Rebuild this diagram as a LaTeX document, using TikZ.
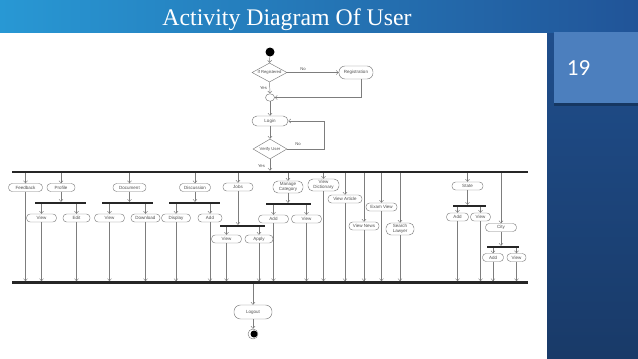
\documentclass[tikz,border=0pt]{standalone}
\usepackage{fontspec}
\setmainfont{Liberation Serif}
\setsansfont{Liberation Sans}
\newfontfamily\numfont{Carlito}
\usetikzlibrary{shapes.geometric,arrows.meta}
\definecolor{barL}{RGB}{40,152,212}
\definecolor{barR}{RGB}{33,84,152}
\definecolor{colT}{RGB}{31,78,140}
\definecolor{colB}{RGB}{25,58,104}
\definecolor{numbox}{RGB}{76,127,190}
\definecolor{linec}{RGB}{125,125,125}
\definecolor{nodetext}{RGB}{80,80,80}
\tikzset{
  act/.style={draw=linec, line width=0.45pt, fill=white, rounded corners=3.6pt,
    minimum height=8pt, inner sep=0.5pt, text=nodetext, align=center,
    font=\sffamily\fontsize{4.5}{5}\selectfont},
  actt/.style={act, minimum height=12pt, rounded corners=5pt},
  decis/.style={draw=linec, line width=0.45pt, fill=white, diamond, shape aspect=1.8,
    inner sep=0pt, text=nodetext, font=\sffamily\fontsize{4.2}{5}\selectfont},
  bar/.style={fill=black!85, inner sep=0pt, minimum height=2pt},
  arr/.style={draw=linec, line width=0.45pt, -{Straight Barb[length=2.2pt,width=4pt]}},
  lbl/.style={inner sep=0pt, text=nodetext, font=\sffamily\fontsize{4.2}{5}\selectfont}
}
\begin{document}
\begin{tikzpicture}[x=1pt,y=-1pt]
\useasboundingbox (0,0) rectangle (638,359);
% background
\shade[left color=barL, right color=barR] (0,0) rectangle (638,33);
\shade[top color=colT, bottom color=colB] (547,33) rectangle (638,359);
\fill[white] (0,33) rectangle (547,359);
% slide number box
\fill[black, opacity=0.25] (554,103) rectangle (638,105.5);
\fill[numbox] (554,32) rectangle (638,103);
\node[text=white, font=\numfont\fontsize{23}{26}\selectfont, inner sep=0pt] (num) at (578.5,68.5) {19};
% title
\node[text=white, font=\fontsize{23.8}{26}\selectfont, inner sep=0pt, anchor=base] (title) at (287,25.5) {Activity Diagram Of User};

% top part
\node[circle, fill=black, minimum size=9pt, inner sep=0pt] (start) at (270,52) {};
\node[decis, minimum width=35pt, minimum height=19pt] (ifreg) at (269.5,72.5) {If Registered};
\node[act, minimum width=34pt, minimum height=13pt, rounded corners=6pt] (reg) at (356,72.5) {Registration};
\node[ellipse, draw=linec, line width=0.45pt, fill=white, minimum width=9pt, minimum height=7.5pt, inner sep=0pt] (merge) at (270,97.5) {};
\node[act, minimum width=36pt, minimum height=10pt, rounded corners=5pt] (login) at (270,121) {Login};
\node[decis, minimum width=34pt, minimum height=20pt] (verify) at (270,149) {Verify User};
\coordinate (lp) at (324,121);

\node[lbl] (no1) at (303,69.5) {No};
\node[lbl] (yes1) at (263.5,88) {Yes};
\node[lbl] (no2) at (298,144) {No};
\node[lbl] (yes2) at (261.5,166) {Yes};

\draw[arr] (start) -- (ifreg.north);
\draw[arr] (ifreg.east) -- (reg.west);
\draw[arr] (ifreg.south) -- (merge.north);
\draw[arr] ([xshift=5pt]reg.south) |- (merge.east);
\draw[arr] (merge.south) -- (login.north);
\draw[arr] (login.south) -- (verify.north);
\draw[arr] (verify.east) -| (lp) -- (login.east);

% bars
\node[bar, minimum width=516pt, minimum height=2.4pt] (fork) at (270,172) {};
\node[bar, minimum width=516pt, minimum height=2.4pt] (join) at (270,282.5) {};
\draw[arr] (verify.south) -- (verify |- fork.north);

% level 1
\node[act, minimum width=34pt] (feedback) at (25.5,187.5) {Feedback};
\node[act, minimum width=28pt] (profile) at (61,187.5) {Profile};
\node[act, minimum width=33pt] (document) at (129.5,187.5) {Document};
\node[act, minimum width=31pt] (discussion) at (195,187.5) {Discussion};
\node[act, minimum width=30pt] (jobs) at (238,187) {Jobs};
\node[actt, minimum width=30pt] (managecat) at (288,187) {Manage\\Category};
\node[actt, minimum width=31pt] (viewdict) at (323.5,185) {View\\Dictionary};
\node[act, minimum width=34pt] (viewarticle) at (345,199) {View Article};
\node[act, minimum width=30pt] (viewnews) at (364,226) {View News};
\node[act, minimum width=31pt] (examview) at (381.5,207) {Exam View};
\node[actt, minimum width=28pt] (searchlawyer) at (400,229) {Search\\Lawyer};
\node[act, minimum width=31pt] (state) at (467.5,186) {State};
\node[act, minimum width=31pt] (city) at (501,227.5) {City};

% sub bars
\node[bar, minimum width=51pt] (pbar) at (60.5,203) {};
\node[bar, minimum width=51pt] (dbar) at (127.5,203) {};
\node[bar, minimum width=51pt] (disbar) at (194.5,203) {};
\node[bar, minimum width=45pt] (jbar) at (242.5,226) {};
\node[bar, minimum width=45pt] (mbar) at (288.5,204) {};
\node[bar, minimum width=33pt] (sbar) at (469.5,206) {};
\node[bar, minimum width=32pt] (cbar) at (503,247) {};

% level 2
\node[act, minimum width=30pt] (pview) at (41.5,218) {View};
\node[act, minimum width=27pt] (pedit) at (76.5,218) {Edit};
\node[act, minimum width=30pt] (dview) at (109.5,218) {View};
\node[act, minimum width=29pt] (ddown) at (145.5,218) {Download};
\node[act, minimum width=29pt] (display) at (176,218) {Display};
\node[act, minimum width=24pt] (disadd) at (210,218) {Add};
\node[act, minimum width=30pt] (jview) at (226.5,239) {View};
\node[act, minimum width=28pt] (japply) at (259,239) {Apply};
\node[act, minimum width=30pt] (madd) at (273.5,219) {Add};
\node[act, minimum width=30pt] (mview) at (306.5,219) {View};
\node[act, minimum width=22pt] (sadd) at (457.5,217) {Add};
\node[act, minimum width=20pt] (sview) at (480.5,217) {View};
\node[act, minimum width=21pt] (cadd) at (493,257.5) {Add};
\node[act, minimum width=19pt] (cview) at (516.5,257.5) {View};

% connectors from fork
\foreach \n in {feedback,profile,document,discussion,jobs,managecat,viewdict,viewarticle,viewnews,examview,searchlawyer,state,city}
  \draw[arr] (\n |- fork.south) -- (\n.north);
% to sub bars
\foreach \a/\b in {profile/pbar,document/dbar,discussion/disbar,jobs/jbar,managecat/mbar,state/sbar,city/cbar}
  \draw[arr] (\a.south) -- (\a |- \b.north);
% from sub bars
\foreach \b/\n in {pbar/pview,pbar/pedit,dbar/dview,dbar/ddown,disbar/display,disbar/disadd,jbar/jview,jbar/japply,mbar/madd,mbar/mview,sbar/sadd,sbar/sview,cbar/cadd,cbar/cview}
  \draw[arr] (\n |- \b.south) -- (\n.north);
% to join
\foreach \n in {feedback,pview,pedit,dview,ddown,display,disadd,jview,japply,madd,mview,viewdict,viewarticle,viewnews,examview,searchlawyer,sadd,sview,cadd,cview}
  \draw[arr] (\n.south) -- (\n |- join.north);

% bottom
\node[act, minimum width=38pt, minimum height=14pt, rounded corners=6.5pt] (logout) at (253,312) {Logout};
\node[circle, draw=linec, line width=0.45pt, fill=white, minimum size=10pt, inner sep=0pt] (endn) at (253,334) {};
\node[circle, fill=black, minimum size=7pt, inner sep=0pt] (endin) at (254,334) {};
\draw[arr] (logout |- join.south) -- (logout.north);
\draw[arr] (logout.south) -- (endn.north);
\end{tikzpicture}
\end{document}
